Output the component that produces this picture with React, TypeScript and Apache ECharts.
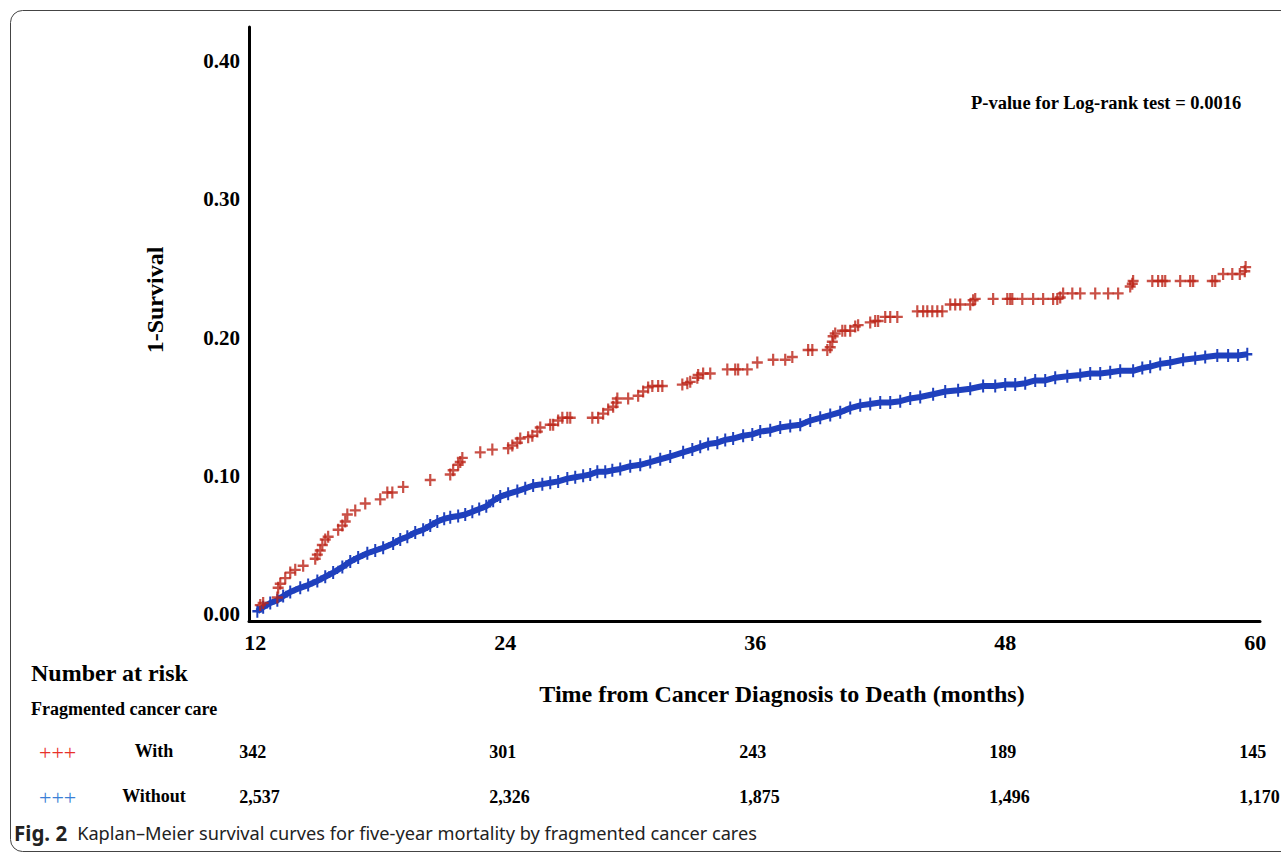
import React, { useEffect, useRef } from "react";
import * as echarts from "echarts";

const xTicks = [12, 24, 36, 48, 60];
const yTicks = [0, 0.1, 0.2, 0.3, 0.4];
const riskGroups = ["With", "Without"];
const riskWith = [342, 301, 243, 189, 145];
const riskWithout = [2537, 2326, 1875, 1496, 1170];
const pValueText = "P-value for Log-rank test = 0.0016";
const xName = "Time from Cancer Diagnosis to Death (months)";
const yName = "1-Survival";
const captionBold = "Fig. 2";
const captionText = "Kaplan–Meier survival curves for five-year mortality by fragmented cancer cares";

// [month, 1-survival] censor marks, group with fragmented care
const withPoints: [number, number][] = [
  [12.24, 0.0065], [12.38, 0.008], [13.06, 0.012], [13.1, 0.019], [13.2, 0.022], [13.44, 0.026],
  [13.68, 0.03], [13.92, 0.032], [14.3, 0.035], [14.88, 0.04], [14.98, 0.043], [15.12, 0.046],
  [15.22, 0.05], [15.36, 0.054], [15.5, 0.056], [15.98, 0.061], [16.18, 0.064], [16.32, 0.067],
  [16.42, 0.072], [16.8, 0.075], [17.28, 0.08], [18.0, 0.083], [18.34, 0.088], [18.58, 0.088],
  [19.1, 0.092], [20.4, 0.097], [21.36, 0.101], [21.5, 0.104], [21.74, 0.108], [21.84, 0.11],
  [21.94, 0.113], [22.8, 0.117], [23.38, 0.119], [24.14, 0.12], [24.34, 0.122], [24.58, 0.124],
  [24.72, 0.127], [25.1, 0.128], [25.3, 0.129], [25.54, 0.132], [25.68, 0.135], [26.16, 0.137],
  [26.3, 0.137], [26.54, 0.14], [26.74, 0.142], [26.98, 0.142], [27.12, 0.142], [28.18, 0.142],
  [28.46, 0.142], [28.7, 0.145], [28.94, 0.148], [29.18, 0.15], [29.33, 0.153], [29.38, 0.156],
  [29.9, 0.156], [30.38, 0.158], [30.62, 0.161], [30.86, 0.164], [31.06, 0.165], [31.34, 0.165],
  [31.54, 0.165], [32.5, 0.166], [32.74, 0.167], [32.88, 0.168], [33.22, 0.171], [33.26, 0.173],
  [33.5, 0.174], [33.84, 0.174], [34.66, 0.177], [35.04, 0.177], [35.18, 0.177], [35.62, 0.177],
  [36.1, 0.182], [36.86, 0.184], [37.44, 0.184], [37.78, 0.186], [38.54, 0.191], [38.74, 0.191],
  [39.46, 0.191], [39.6, 0.193], [39.7, 0.197], [39.74, 0.201], [39.84, 0.203], [40.18, 0.205],
  [40.32, 0.205], [40.56, 0.205], [40.8, 0.208], [40.94, 0.209], [41.52, 0.211], [41.76, 0.212],
  [41.9, 0.212], [42.24, 0.215], [42.48, 0.215], [42.82, 0.215], [43.78, 0.219], [44.06, 0.219],
  [44.26, 0.219], [44.5, 0.219], [44.74, 0.219], [44.98, 0.219], [45.36, 0.224], [45.6, 0.224],
  [45.84, 0.224], [46.32, 0.224], [46.46, 0.227], [46.56, 0.228], [47.42, 0.228], [48.1, 0.228],
  [48.24, 0.228], [48.34, 0.228], [48.82, 0.228], [49.34, 0.228], [49.82, 0.228], [50.3, 0.228],
  [50.5, 0.228], [50.64, 0.229], [50.78, 0.232], [51.22, 0.232], [51.6, 0.232], [52.32, 0.232],
  [52.94, 0.232], [53.42, 0.232], [54.0, 0.237], [54.1, 0.239], [54.14, 0.241], [55.06, 0.241],
  [55.34, 0.241], [55.54, 0.241], [55.68, 0.241], [56.4, 0.241], [56.88, 0.241], [57.02, 0.241],
  [57.94, 0.241], [58.08, 0.241], [58.46, 0.246], [58.9, 0.246], [59.26, 0.246], [59.5, 0.248],
  [59.54, 0.251],
];

// [month, 1-survival] group without fragmented care
const withoutPoints: [number, number][] = [
  [12.1, 0.002], [12.38, 0.005], [12.72, 0.008], [13.06, 0.01], [13.34, 0.013], [13.68, 0.016],
  [14.16, 0.019], [14.54, 0.021], [14.98, 0.024], [15.36, 0.027], [15.74, 0.03], [16.18, 0.034],
  [16.56, 0.038], [16.94, 0.041], [17.38, 0.044], [17.76, 0.046], [18.14, 0.048], [18.62, 0.051],
  [18.96, 0.054], [19.3, 0.056], [19.68, 0.059], [20.06, 0.061], [20.4, 0.064], [20.74, 0.067],
  [21.07, 0.069], [21.36, 0.07], [21.74, 0.071], [22.08, 0.072], [22.42, 0.074], [22.75, 0.076],
  [23.09, 0.078], [23.42, 0.082], [23.76, 0.085], [24.14, 0.087], [24.58, 0.089], [24.96, 0.091],
  [25.34, 0.093], [25.78, 0.094], [26.16, 0.095], [26.54, 0.096], [26.98, 0.098], [27.36, 0.099],
  [27.74, 0.1], [28.08, 0.101], [28.42, 0.103], [28.8, 0.103], [29.14, 0.104], [29.52, 0.105],
  [30.0, 0.107], [30.48, 0.108], [30.96, 0.11], [31.44, 0.112], [31.92, 0.114], [32.54, 0.117],
  [32.98, 0.119], [33.36, 0.121], [33.74, 0.123], [34.18, 0.124], [34.56, 0.126], [34.94, 0.127],
  [35.42, 0.129], [35.86, 0.13], [36.24, 0.132], [36.72, 0.133], [37.2, 0.135], [37.68, 0.136],
  [38.16, 0.137], [38.64, 0.14], [39.12, 0.142], [39.6, 0.144], [40.08, 0.146], [40.56, 0.149],
  [41.04, 0.151], [41.52, 0.152], [42.0, 0.153], [42.48, 0.153], [42.96, 0.154], [43.44, 0.156],
  [43.92, 0.157], [44.54, 0.159], [45.12, 0.161], [45.74, 0.162], [46.32, 0.163], [46.94, 0.165],
  [47.52, 0.165], [48.0, 0.166], [48.48, 0.166], [48.96, 0.167], [49.44, 0.169], [49.92, 0.169],
  [50.4, 0.171], [50.98, 0.172], [51.6, 0.173], [52.08, 0.174], [52.56, 0.174], [53.04, 0.175],
  [53.52, 0.176], [54.14, 0.176], [54.58, 0.178], [54.96, 0.179], [55.44, 0.181], [55.92, 0.182],
  [56.54, 0.184], [57.12, 0.185], [57.6, 0.186], [58.18, 0.187], [58.7, 0.187], [59.18, 0.187],
  [59.62, 0.188],
];

const PLUS = "path://M4,0h2v4h4v2h-4v4h-2v-4h-4v-2h4z";
const SERIF = "'Liberation Serif', 'Times New Roman', serif";
const SANS = "'Noto Sans', 'Open Sans', sans-serif";
const RED = "#bb2418";
const BLUE = "#1f40bd";

export default function App() {
  const ref = useRef<HTMLDivElement>(null);
  useEffect(() => {
    const chart = echarts.init(ref.current!, null, { renderer: "svg" });
    const labelStyle = { color: "#000", fontFamily: SERIF, fontWeight: "bold" as const };
    chart.setOption({
      animation: false,
      backgroundColor: "#fff",
      grid: { left: 249, top: 27, width: 1011, height: 594 },
      xAxis: {
        type: "value",
        min: 11.7,
        max: 60.23,
        axisLine: { show: true, onZero: false, lineStyle: { color: "#000", width: 3 } },
        axisTick: { show: false },
        splitLine: { show: false },
        axisLabel: { ...labelStyle, customValues: xTicks, fontSize: 22, margin: 10 },
      },
      yAxis: {
        type: "value",
        min: -0.005,
        max: 0.4247,
        axisLine: { show: true, onZero: false, lineStyle: { color: "#000", width: 3 } },
        axisTick: { show: false },
        splitLine: { show: false },
        axisLabel: {
          ...labelStyle,
          customValues: yTicks,
          fontSize: 21,
          margin: 9,
          formatter: (v: number) => v.toFixed(2),
        },
      },
      series: [
        {
          name: "Without",
          type: "line",
          data: withoutPoints,
          showAllSymbol: true,
          symbol: PLUS,
          symbolSize: [10, 13],
          lineStyle: { color: BLUE, width: 6 },
          itemStyle: { color: BLUE },
          z: 2,
        },
        {
          name: "With",
          type: "scatter",
          data: withPoints,
          symbol: PLUS,
          symbolSize: [11, 12],
          itemStyle: { color: RED },
          z: 3,
        },
      ],
    });

    const px = (v: number) => chart.convertToPixel({ xAxisIndex: 0 }, v) as number;
    const bold = (size: number) => `bold ${size}px ${SERIF}`;
    const fmt = (n: number) => n.toLocaleString("en-US");
    const rows = [riskWith, riskWithout];
    const rowY = [752, 797];
    const markColors = ["#e8312a", "#3b7fd6"];

    const graphics: any[] = [
      {
        type: "rect",
        shape: { x: 10.5, y: 10.5, width: 1300, height: 841, r: 12 },
        style: { fill: "none", stroke: "#444", lineWidth: 1 },
        silent: true,
      },
      {
        type: "text",
        x: 155,
        y: 300,
        rotation: Math.PI / 2,
        style: { text: yName, font: bold(24), fill: "#000", align: "center", verticalAlign: "middle" },
      },
      {
        type: "text",
        x: 782,
        y: 694,
        style: { text: xName, font: bold(24), fill: "#000", align: "center", verticalAlign: "middle" },
      },
      {
        type: "text",
        x: 971,
        y: 103,
        style: { text: pValueText, font: bold(18.5), fill: "#000", align: "left", verticalAlign: "middle" },
      },
      {
        type: "text",
        x: 31,
        y: 673,
        style: { text: "Number at risk", font: bold(24), fill: "#000", align: "left", verticalAlign: "middle" },
      },
      {
        type: "text",
        x: 31,
        y: 709,
        style: { text: "Fragmented cancer care", font: bold(18), fill: "#000", align: "left", verticalAlign: "middle" },
      },
      {
        type: "text",
        x: 14,
        y: 833,
        style: {
          text: `{b|${captionBold}}   {n|${captionText}}`,
          align: "left",
          verticalAlign: "middle",
          rich: {
            b: { font: `bold 20.5px ${SANS}`, fill: "#222" },
            n: { font: `18.2px ${SANS}`, fill: "#222" },
          },
        },
      },
    ];

    riskGroups.forEach((g, i) => {
      graphics.push({
        type: "text",
        x: 39,
        y: rowY[i],
        style: { text: "+++", font: `22px ${SERIF}`, fill: markColors[i], align: "left", verticalAlign: "middle" },
      });
      graphics.push({
        type: "text",
        x: 154,
        y: rowY[i] - 1,
        style: { text: g, font: bold(18), fill: "#000", align: "center", verticalAlign: "middle" },
      });
      rows[i].forEach((n, j) => {
        graphics.push({
          type: "text",
          x: px(xTicks[j]) - 16,
          y: rowY[i],
          style: { text: fmt(n), font: bold(18), fill: "#000", align: "left", verticalAlign: "middle" },
        });
      });
    });

    chart.setOption({ graphic: graphics });
    return () => chart.dispose();
  }, []);
  return <div ref={ref} style={{ position: "absolute", left: 0, top: 0, width: 1281, height: 852 }} />;
}
